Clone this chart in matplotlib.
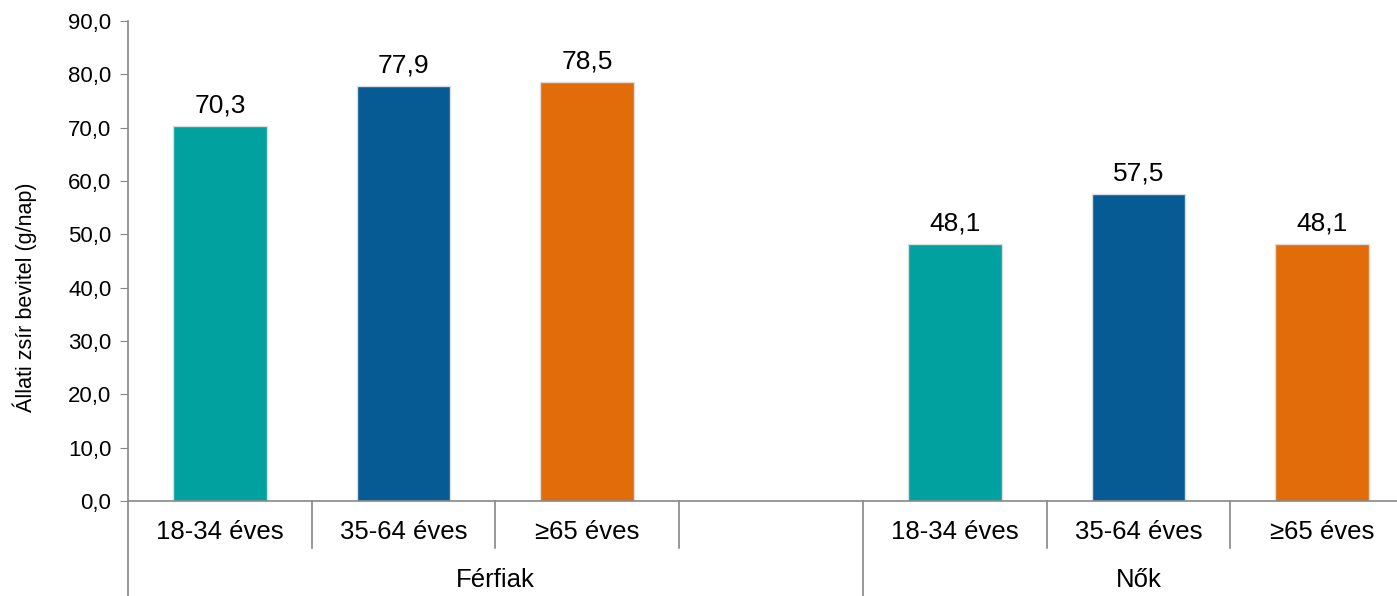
import matplotlib.pyplot as plt
from matplotlib.transforms import blended_transform_factory

plt.rcParams['font.family'] = ['Liberation Sans', 'DejaVu Sans']

# data
groups = ["Férfiak", "Nők"]
age_labels = ["18-34 éves", "35-64 éves", "≥65 éves"]
men_values = [70.3, 77.9, 78.5]
women_values = [48.1, 57.5, 48.1]
colors = ["#00A19F", "#065B94", "#E36C0A"]

# slot layout: 3 men bars, one empty slot, 3 women bars
men_x = [0, 1, 2]
women_x = [4, 5, 6]

fig = plt.figure(figsize=(13.97, 5.96), dpi=100)
ax = fig.add_axes([128 / 1397, 1 - 501 / 596, (1414 - 128) / 1397, 480 / 596])

ax.bar(men_x, men_values, width=0.51, color=colors, edgecolor="#dddddd", linewidth=1)
ax.bar(women_x, women_values, width=0.51, color=colors, edgecolor="#dddddd", linewidth=1)

for x, v in zip(men_x + women_x, men_values + women_values):
    ax.text(x, v + 1.6, f"{v:.1f}".replace(".", ","), ha="center", va="bottom", fontsize=19)

ax.set_xlim(-0.5, 6.5)
ax.set_ylim(0, 90)
ax.set_yticks(range(0, 91, 10))
ax.set_yticklabels([f"{t:.1f}".replace(".", ",") for t in range(0, 91, 10)], fontsize=16)
ax.set_xticks([])
ax.tick_params(axis="y", length=6, color="#888888", pad=6)
ax.set_ylabel("Állati zsír bevitel (g/nap)", fontsize=15.5)
ax.yaxis.set_label_coords(-0.071, 0.425)

for s in ["top", "right"]:
    ax.spines[s].set_visible(False)
for s in ["left", "bottom"]:
    ax.spines[s].set_color("#888888")
    ax.spines[s].set_linewidth(1.2)

# category axis below the plot
trans = blended_transform_factory(ax.transData, ax.transAxes)
for x, lab in zip(men_x + women_x, age_labels + age_labels):
    ax.text(x, -0.065, lab, transform=trans, ha="center", va="center", fontsize=18.5)

short_seps = [0.5, 1.5, 2.5, 4.5, 5.5]
long_seps = [-0.5, 3.5, 6.5]
for x in short_seps:
    ax.plot([x, x], [0, -0.098], transform=trans, color="#888888", lw=1.2, clip_on=False)
for x in long_seps:
    ax.plot([x, x], [0, -0.2], transform=trans, color="#888888", lw=1.2, clip_on=False)

ax.text(1.5, -0.165, groups[0], transform=trans, ha="center", va="center", fontsize=18.5)
ax.text(5.0, -0.165, groups[1], transform=trans, ha="center", va="center", fontsize=18.5)

fig.savefig("out.png", dpi=100)
